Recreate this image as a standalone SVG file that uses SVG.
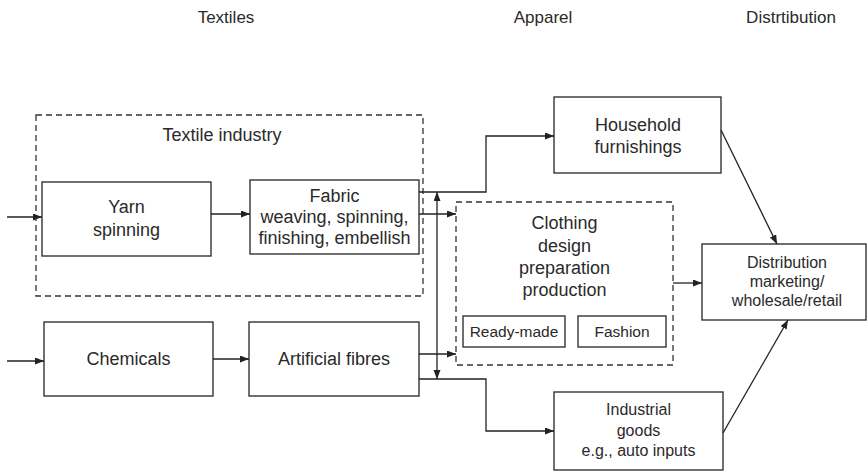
<svg xmlns="http://www.w3.org/2000/svg" width="867" height="472" viewBox="0 0 867 472">
<defs>
<marker id="ah" markerUnits="userSpaceOnUse" markerWidth="10" markerHeight="8" refX="9" refY="3.5" orient="auto-start-reverse">
<path d="M0,0 L9,3.5 L0,7 z" fill="#222"/>
</marker>
<style>
.box{fill:#fff;stroke:#333;stroke-width:1.4}
.dash{fill:none;stroke:#333;stroke-width:1.3;stroke-dasharray:6 4}
.t{font-family:"Liberation Sans",Arial,sans-serif;fill:#2a2a2a;text-anchor:middle}
.l{font-size:18px}
.m{font-size:16px}
.s{font-size:15.5px}
.h{font-size:17px}
.c{fill:none;stroke:#222;stroke-width:1.3}
</style>
</defs>
<rect width="867" height="472" fill="#fff"/>
<g id="headers">
<text class="t h" x="226" y="23">Textiles</text>
<text class="t h" x="543" y="23">Apparel</text>
<text class="t h" x="791" y="23">Distrtibution</text>
</g>
<g id="textile-industry">
<rect class="dash" x="36" y="115" width="387" height="181"/>
<text class="t l" x="222" y="141">Textile industry</text>
</g>
<g id="yarn">
<rect class="box" x="42" y="182" width="169" height="74"/>
<text class="t l" x="126.5" y="213">Yarn</text>
<text class="t l" x="126.5" y="236">spinning</text>
</g>
<g id="fabric">
<rect class="box" x="250" y="180" width="169" height="74"/>
<text class="t l" x="334.5" y="202">Fabric</text>
<text class="t l" x="334.5" y="223">weaving, spinning,</text>
<text class="t l" x="334.5" y="244">finishing, embellish</text>
</g>
<g id="chemicals">
<rect class="box" x="44" y="322" width="169" height="74"/>
<text class="t l" x="128.5" y="365">Chemicals</text>
</g>
<g id="artificial">
<rect class="box" x="249" y="322" width="170" height="74"/>
<text class="t l" x="334" y="365">Artificial fibres</text>
</g>
<g id="household">
<rect class="box" x="554" y="97" width="167" height="76"/>
<text class="t l" x="638" y="131">Household</text>
<text class="t l" x="638" y="153">furnishings</text>
</g>
<g id="clothing">
<rect class="dash" x="456" y="202" width="217" height="163"/>
<text class="t l" x="564.5" y="229">Clothing</text>
<text class="t l" x="564.5" y="252">design</text>
<text class="t l" x="564.5" y="274">preparation</text>
<text class="t l" x="564.5" y="296">production</text>
</g>
<g id="ready-made">
<rect class="box" x="463" y="316" width="102" height="31"/>
<text class="t s" x="514" y="337">Ready-made</text>
</g>
<g id="fashion">
<rect class="box" x="578" y="316" width="88" height="31"/>
<text class="t s" x="622" y="337">Fashion</text>
</g>
<g id="distribution">
<rect class="box" x="702" y="244" width="164" height="76"/>
<text class="t m" x="787" y="268">Distribution</text>
<text class="t m" x="787" y="287">marketing/</text>
<text class="t m" x="787" y="306">wholesale/retail</text>
</g>
<g id="industrial">
<rect class="box" x="554" y="392" width="169" height="78"/>
<text class="t m" x="638.5" y="415">Industrial</text>
<text class="t m" x="638.5" y="436">goods</text>
<text class="t m" x="638.5" y="456">e.g., auto inputs</text>
</g>
<g id="connectors">
<line class="c" x1="7" y1="217" x2="42" y2="217" marker-end="url(#ah)"/>
<line class="c" x1="211" y1="214" x2="250" y2="214" marker-end="url(#ah)"/>
<line class="c" x1="7" y1="361" x2="44" y2="361" marker-end="url(#ah)"/>
<line class="c" x1="213" y1="359" x2="249" y2="359" marker-end="url(#ah)"/>
<polyline class="c" points="419,192 486,192 486,136 554,136" marker-end="url(#ah)"/>
<line class="c" x1="419" y1="214" x2="456" y2="214" marker-end="url(#ah)"/>
<line class="c" x1="419" y1="354" x2="456" y2="354" marker-end="url(#ah)"/>
<polyline class="c" points="419,379 486,379 486,431 554,431" marker-end="url(#ah)"/>
<line class="c" x1="437" y1="192" x2="437" y2="379" marker-start="url(#ah)" marker-end="url(#ah)"/>
<line class="c" x1="673" y1="283" x2="702" y2="283" marker-end="url(#ah)"/>
<line class="c" x1="721" y1="130" x2="777" y2="244" marker-end="url(#ah)"/>
<line class="c" x1="723" y1="433" x2="788" y2="320" marker-end="url(#ah)"/>
</g>
</svg>
